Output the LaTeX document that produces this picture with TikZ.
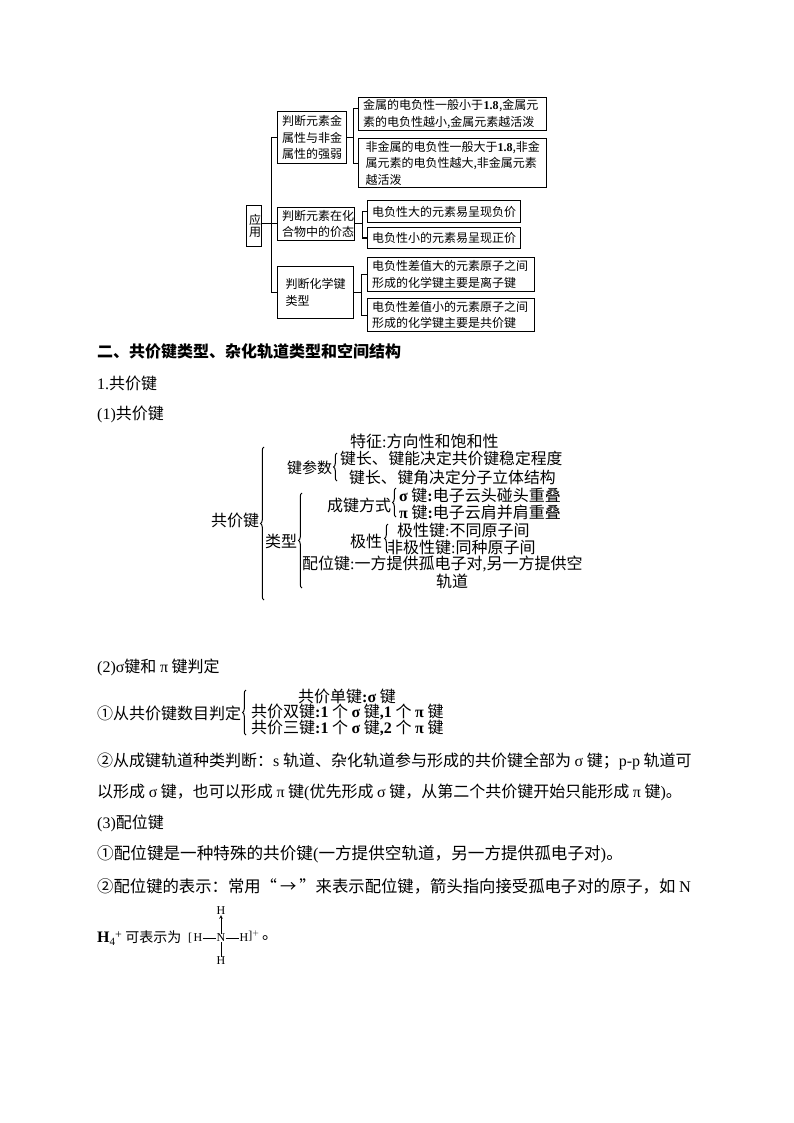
\documentclass[tikz,border=0pt]{standalone}
\usepackage{fontspec}
\setmainfont{Noto Sans CJK SC}
\newfontfamily\lat{Liberation Serif}
\usetikzlibrary{decorations.pathreplacing,calc}
\newcommand{\fs}[1]{\fontsize{#1}{#1}\selectfont}
\tikzset{
 conn/.style={draw,line width=1pt},
 boxn/.style={draw,line width=1pt,inner xsep=4.5pt,inner ysep=2pt,anchor=north west,align=left,font=\fs{12}\linespread{1.38}\selectfont,
   preaction={draw,line width=1pt,transform canvas={xshift=.4pt,yshift=-.4pt}}},
 tx/.style={anchor=west,inner sep=0pt,font=\fs{16}},
 big/.style={anchor=west,inner sep=0pt,font=\fs{16}},
 hd/.style={anchor=west,inner sep=0pt,font=\fs{16}\bfseries},
 sm/.style={anchor=center,inner sep=0pt,font=\lat\fs{12}},
 br/.style={draw,line width=1pt,decorate,decoration={brace,mirror,amplitude=#1}},
 br/.default=3.5pt,
}
\begin{document}
\begin{tikzpicture}[x=1pt,y=-1pt]
\useasboundingbox (0,0) rectangle (794,1123);
% concept map
\node[boxn,text width=10pt,inner xsep=2.5pt,minimum height=41pt,align=center,inner ysep=1pt] (yy) at (246,205) {应\\[-4pt]用};
\node[boxn,text width=60pt,minimum height=52pt] (a) at (277,111) {判断元素金\\属性与非金\\属性的强弱};
\node[boxn,text width=68pt,minimum height=33pt] (c) at (277,207) {判断元素在化\\合物中的价态};
\node[boxn,text width=60pt,inner xsep=8pt,minimum height=52pt] (d) at (277,266) {判断化学键\\类型};
\node[boxn,text width=179pt,minimum height=33pt] (b1) at (358,97) {金属的电负性一般小于{\lat\bfseries\hspace{.5pt}1.8\hspace{.5pt}},金属元\\素的电负性越小,金属元素越活泼};
\node[boxn,text width=174pt,inner xsep=7pt,minimum height=49pt] (b2) at (358,138) {非金属的电负性一般大于{\lat\bfseries 1.8},非金\\属元素的电负性越大,非金属元素\\越活泼};
\node[boxn,text width=144pt,minimum height=22pt] (c1) at (367,200) {电负性大的元素易呈现负价};
\node[boxn,text width=144pt,minimum height=21pt] (c2) at (367,227) {电负性小的元素易呈现正价};
\node[boxn,text width=158pt,minimum height=34pt] (d1) at (367,257) {电负性差值大的元素原子之间\\形成的化学键主要是离子键};
\node[boxn,text width=158pt,minimum height=33pt] (d2) at (367,298) {电负性差值小的元素原子之间\\形成的化学键主要是共价键};
\coordinate (trunk) at (271,223);
\draw[conn] ([yshift=2pt]yy.east) -- (c.west);
\draw[conn] (a.west) -| (trunk);
\draw[conn] (d.west) -| (trunk);
\draw[conn] (a.east) -- ++(6,0) coordinate (ja) |- ([yshift=6pt]b1.west);
\draw[conn] (ja) |- ([yshift=-.5pt]b2.west);
\draw[conn] (c.east) -- ++(7,0) coordinate (jc) |- (c1.west);
\draw[conn] (jc) |- (c2.west);
\draw[conn] (d.east) -- ++(7,0) coordinate (jd) |- (d1.west);
\draw[conn] (jd) |- (d2.west);
% body headings
\node[hd] (h2) at (97,351) {二、共价键类型、杂化轨道类型和空间结构};
\node[tx] (h3) at (97,383) {{\lat 1.}共价键};
\node[tx] (h4) at (97,414) {{\lat (1)}共价键};
% covalent bond tree
\node[big] (n1) at (350,441) {特征{\lat :}方向性和饱和性};
\node[big,font=\fs{15}] (n2) at (287,468) {键参数};
\node[big,font=\fs{15.8}] (n3) at (340,458) {键长、\hspace{1pt}键能决定共价键稳定程度};
\node[big,font=\fs{15.8}] (n4) at (349,477) {键长、\hspace{1pt}键角决定分子立体结构};
\node[big] (n5) at (211,520) {共价键};
\node[big] (n6) at (265,541) {类型};
\node[big] (n7) at (327,505) {成键方式};
\node[big] (n8) at (399,495) {{\lat\bfseries σ} 键{\lat\bfseries :}电子云头碰头重叠};
\node[big] (n9) at (399,512) {{\lat\bfseries π} 键{\lat\bfseries :}电子云肩并肩重叠};
\node[big] (n10) at (350,541) {极性};
\node[big] (n11) at (397,530) {极性键{\lat :}不同原子间};
\node[big] (n12) at (387,547) {非极性键{\lat :}同种原子间};
\node[big] (n13) at (302,564) {配位键{\lat :}一方提供孤电子对{\lat ,}另一方提供空};
\node[big] (n14) at (436,581) {轨道};
\coordinate (b1a) at (264,447); \coordinate (b1b) at (264,600);
\coordinate (b2a) at (302,493); \coordinate (b2b) at (302,588);
\coordinate (b3a) at (337,453); \coordinate (b3b) at (337,481);
\coordinate (b4a) at (396,488); \coordinate (b4b) at (396,517);
\coordinate (b5a) at (388,524); \coordinate (b5b) at (388,553);
\coordinate (b6a) at (246,690); \coordinate (b6b) at (246,735);
\draw[br] (b1a) -- (b1b);
\draw[br] (b2a) -- (b2b);
\draw[br] (b3a) -- (b3b);
\draw[br] (b4a) -- (b4b);
\draw[br] (b5a) -- (b5b);
\draw[br] (b6a) -- (b6b);
% sigma / pi
\node[tx] (s1) at (97,667) {{\lat (2)σ}键和 {\lat π} 键判定};
\node[tx] (s2) at (97,713) {①从共价键数目判定};
\node[big] (s3) at (298,696) {共价单键{\lat\bfseries :σ} 键};
\node[big] (s4) at (251,712) {共价双键{\lat\bfseries :1} 个 {\lat\bfseries σ} 键{\lat\bfseries ,1} 个 {\lat\bfseries π} 键};
\node[big] (s5) at (251,728) {共价三键{\lat\bfseries :1} 个 {\lat\bfseries σ} 键{\lat\bfseries ,2} 个 {\lat\bfseries π} 键};
\node[tx] (l1) at (97,761) {②从成键轨道种类判断：{\lat s} 轨道、杂化轨道参与形成的共价键全部为 {\lat σ} 键；{\lat p-p} 轨道可};
\node[tx] (l2) at (97,792) {以形成 {\lat σ} 键，也可以形成 {\lat π} 键{\lat (}优先形成 {\lat σ} 键，从第二个共价键开始只能形成 {\lat π} 键{\lat )}。};
\node[tx] (l3) at (97,823) {{\lat (3)}配位键};
\node[tx,font=\fs{16.6}] (l4) at (97,854) {①配位键是一种特殊的共价键{\lat (}一方提供空轨道，另一方提供孤电子对{\lat )}。};
\node[tx,font=\fs{16.35}] (l5) at (97,886) {②配位键的表示：常用“\hspace{3pt}→\hspace{3pt}”来表示配位键，箭头指向接受孤电子对的原子，如 {\lat N}};
\node[tx] (l6) at (97,938) {{\lat\bfseries H}\raisebox{-3pt}{\lat\fs{11}4}\raisebox{4pt}{\lat\fs{12}+} {\fs{14}可表示为}};
% ammonium
\node[sm] (lb) at (190,938) {[};
\node[sm] (hl) at (198,938) {H};
\node[sm] (nn) at (221,938) {N};
\node[sm] (hr) at (244,938) {H};
\node[sm] (rb) at (254,936) {]$^{+}$};
\node[sm] (ht) at (221,911) {H};
\node[sm] (hb) at (221,961) {H};
\node[tx] (dot) at (262,938) {。};
\draw[line width=.6pt] (hl) -- (nn);
\draw[line width=.6pt] (nn) -- (hr);
\draw[line width=.6pt] (nn) -- (hb);
\draw[line width=.6pt,-stealth] (nn) -- (ht);
\end{tikzpicture}
\end{document}
